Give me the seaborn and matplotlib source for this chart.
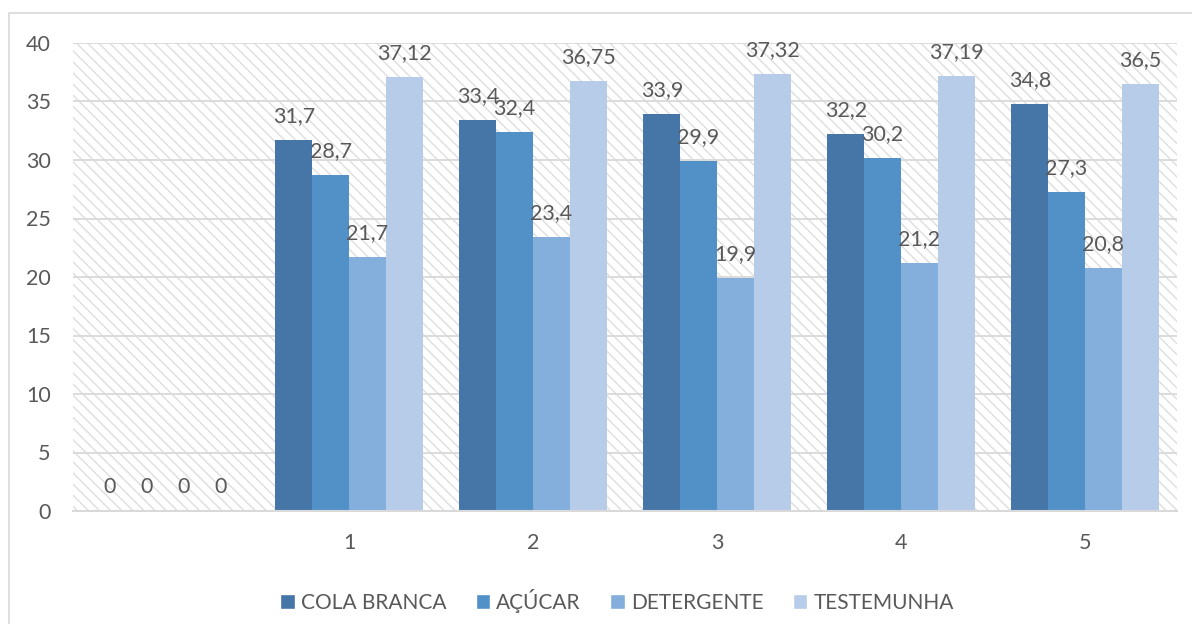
import matplotlib
matplotlib.use("Agg")
import matplotlib.pyplot as plt
from matplotlib.patches import Rectangle, Patch
import pandas as pd
import seaborn as sns

grupos = ["", "1", "2", "3", "4", "5"]
series = ["COLA BRANCA", "AÇÚCAR", "DETERGENTE", "TESTEMUNHA"]
cola_branca = [0, 31.7, 33.4, 33.9, 32.2, 34.8]
acucar = [0, 28.7, 32.4, 29.9, 30.2, 27.3]
detergente = [0, 21.7, 23.4, 19.9, 21.2, 20.8]
testemunha = [0, 37.12, 36.75, 37.32, 37.19, 36.5]
y_ticks = [0, 5, 10, 15, 20, 25, 30, 35, 40]

cores = ["#4676A8", "#5290C8", "#84AEDC", "#B7CCE8"]
cinza_txt = "#595959"
cinza_linha = "#d9d9d9"

rows = []
for nome, vals in zip(series, [cola_branca, acucar, detergente, testemunha]):
    for g, v in zip(grupos, vals):
        rows.append({"grupo": g, "valor": v, "tratamento": nome})
df = pd.DataFrame(rows)

sns.set_style("white")
plt.rcParams["font.family"] = ["Lato", "DejaVu Sans"]
plt.rcParams["hatch.linewidth"] = 1.0

fig = plt.figure(figsize=(11.92, 6.24), dpi=100)
ax = fig.add_axes([73 / 1192, 1 - 511 / 624, 1104 / 1192, 468 / 624])

# fundo hachurado
ax.patch.set_facecolor("white")
ax.patch.set_edgecolor("#dedede")
ax.patch.set_hatch("\\\\\\")
ax.patch.set_linewidth(0)

sns.barplot(data=df, x="grupo", y="valor", hue="tratamento", order=grupos,
            hue_order=series, palette=cores, saturation=1, width=0.8,
            linewidth=0, legend=False, ax=ax)

for cont, vals in zip(ax.containers, [cola_branca, acucar, detergente, testemunha]):
    labs = [("%g" % v).replace(".", ",") for v in vals]
    ax.bar_label(cont, labels=labs, padding=10, fontsize=15.5, color=cinza_txt)

ax.set_ylim(0, 40)
ax.set_xlim(-0.5, len(grupos) - 0.5)
ax.set_yticks(y_ticks)
ax.yaxis.grid(True, color=cinza_linha, linewidth=1.3)
ax.set_axisbelow(True)
for s in ["top", "right", "left"]:
    ax.spines[s].set_visible(False)
ax.spines["bottom"].set_color(cinza_linha)
ax.spines["bottom"].set_linewidth(1.5)

ax.set_xticks([i + 0.5 for i in range(-1, len(grupos))], minor=True)
ax.tick_params(axis="x", which="minor", length=6, width=1.5, color=cinza_linha)
ax.tick_params(axis="x", which="major", length=0, pad=16, labelsize=15.5, labelcolor=cinza_txt)
ax.tick_params(axis="y", length=0, pad=16, labelsize=15.5, labelcolor=cinza_txt)
ax.set_xlabel("")
ax.set_ylabel("")

handles = [Patch(facecolor=c, label=s) for c, s in zip(cores, series)]
fig.legend(handles=handles, loc="center", bbox_to_anchor=(617 / 1192, 1 - 601 / 624),
           ncol=4, frameon=False, fontsize=15, handlelength=0.7, handleheight=0.7,
           handletextpad=0.3, columnspacing=1.4, labelcolor=cinza_txt)

fig.add_artist(Rectangle((9 / 1192, -0.05), 1.1, (624 - 13) / 624 + 0.05,
                         transform=fig.transFigure, fill=False,
                         edgecolor=cinza_linha, linewidth=1.2))

fig.savefig("out.png", dpi=100)
